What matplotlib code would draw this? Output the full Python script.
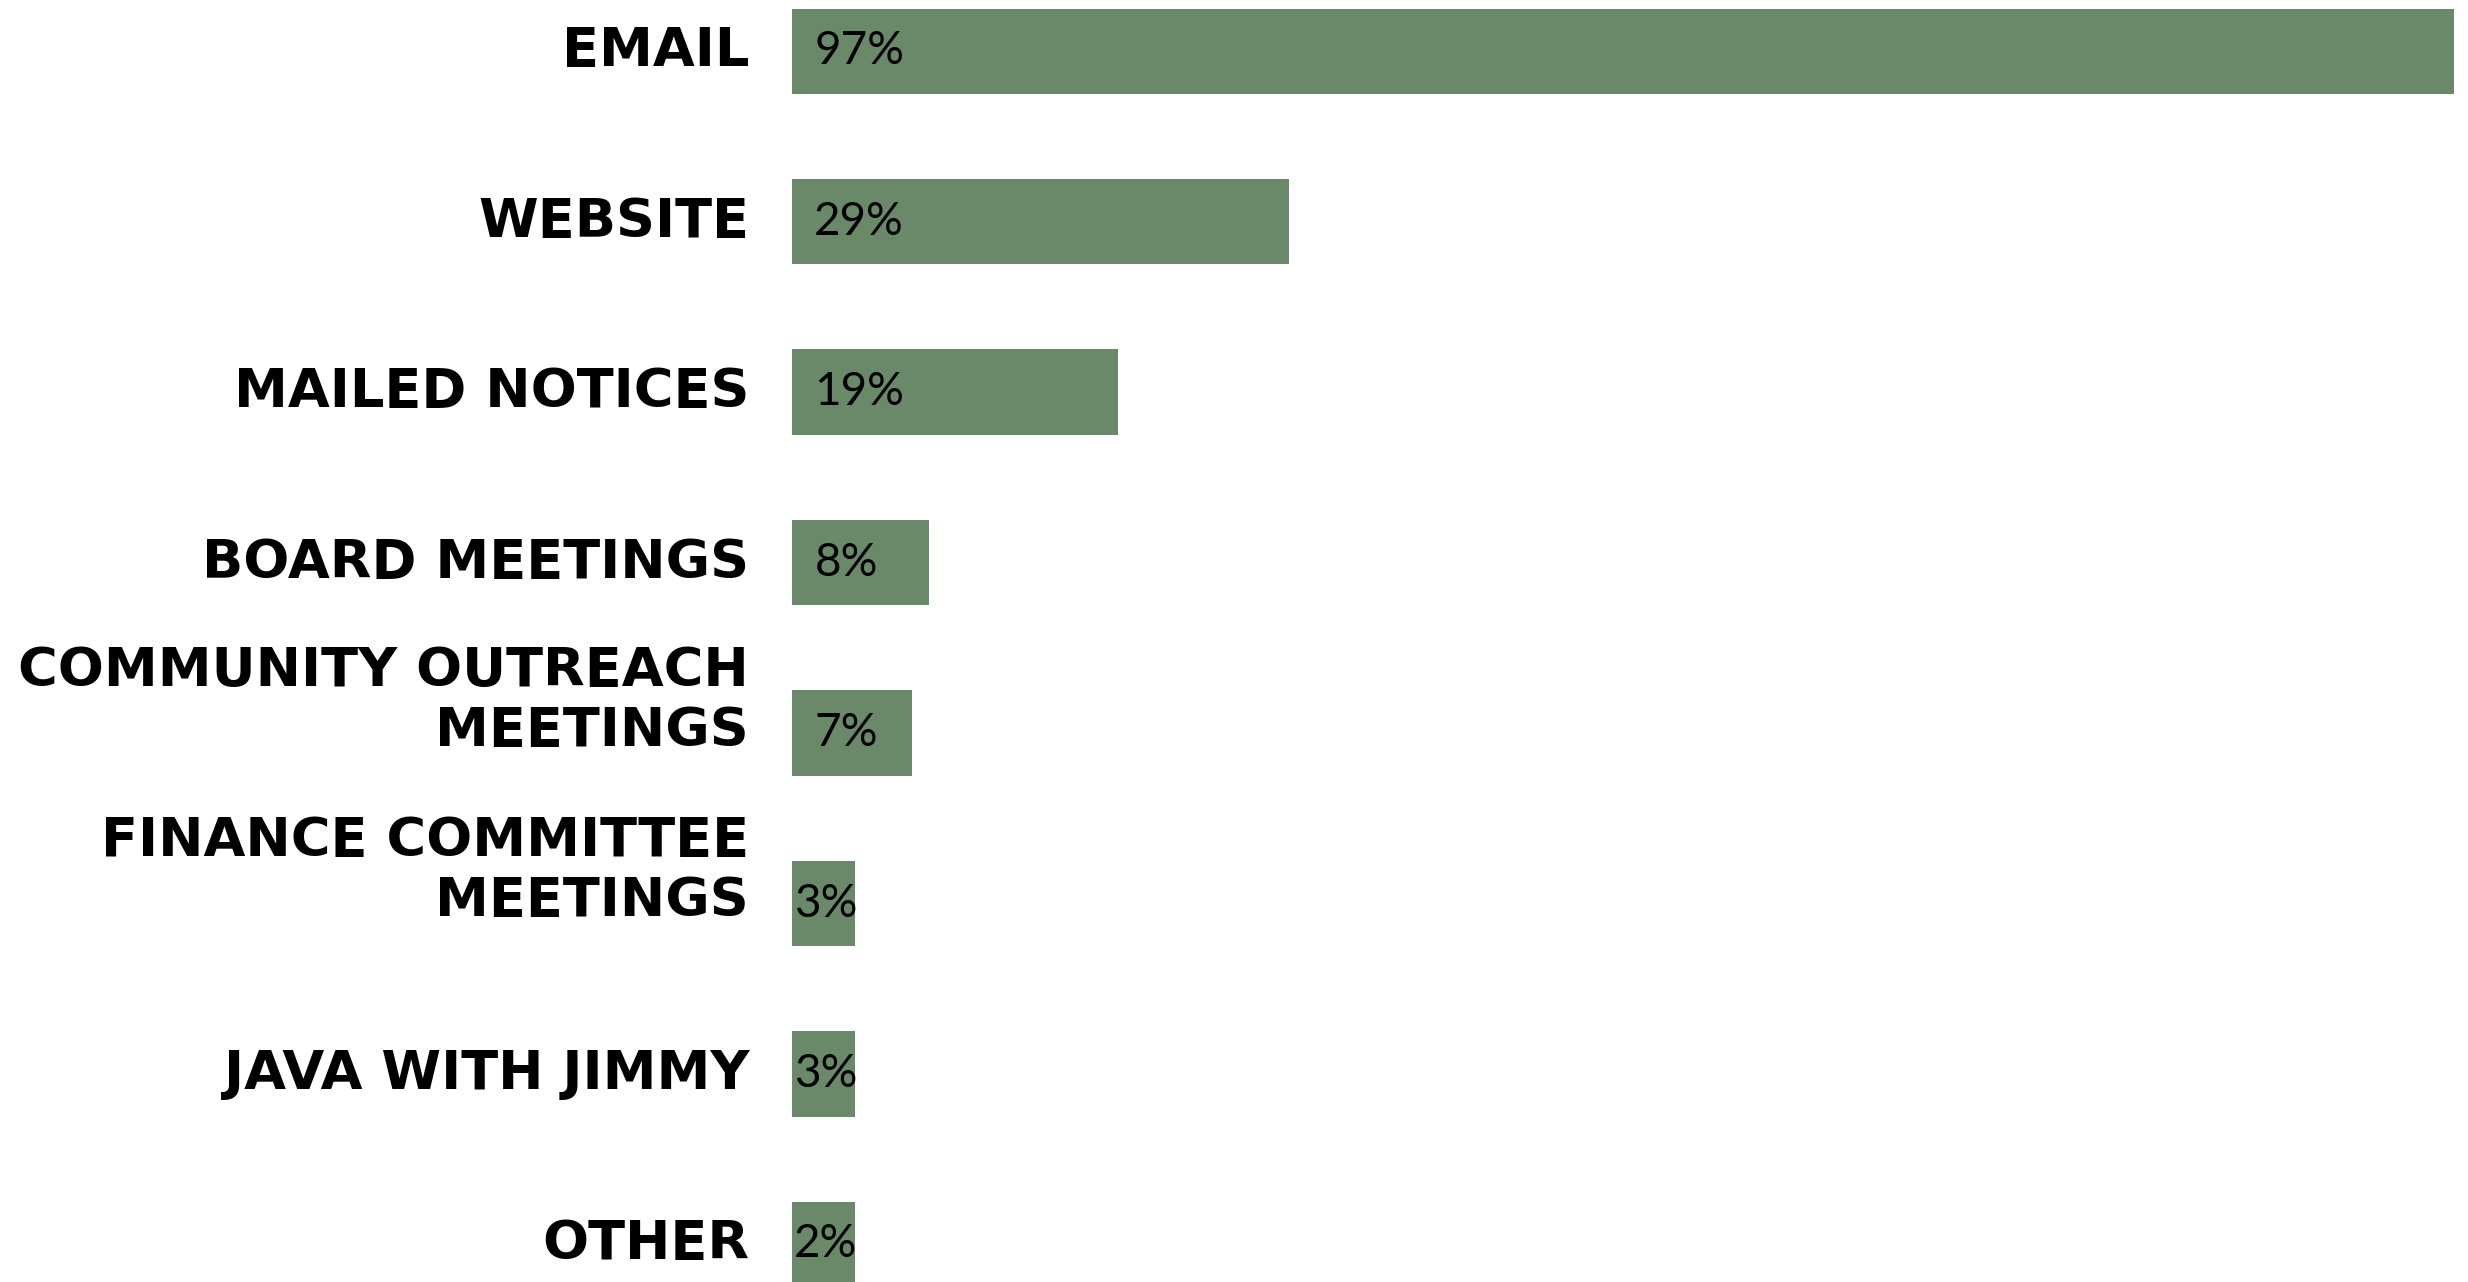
import matplotlib
matplotlib.use("Agg")
import matplotlib.pyplot as plt
import numpy as np

categories = ["EMAIL", "WEBSITE", "MAILED NOTICES", "BOARD MEETINGS",
              "COMMUNITY OUTREACH\nMEETINGS", "FINANCE COMMITTEE\nMEETINGS",
              "JAVA WITH JIMMY", "OTHER"]
values = [97, 29, 19, 8, 7, 3, 3, 2]
value_labels = ["97%", "29%", "19%", "8%", "7%", "3%", "3%", "2%"]

bar_color = "#6a8969"
min_width = 3.7  # tiny bars are drawn a bit wider so the label fits

fig = plt.figure(figsize=(24.68, 12.82), dpi=100)
ax = fig.add_axes([0.3209, 0, 0.679, 1])

y = np.arange(len(categories))
widths = np.maximum(values, min_width)
ax.barh(y, widths, height=0.5, color=bar_color)

ax.set_xlim(0, 97.78)
ax.set_ylim(7.22, -0.30)
ax.axis("off")

for i, (cat, w, lab) in enumerate(zip(categories, widths, value_labels)):
    nlines = cat.count("\n") + 1
    ax.text(-2.5, i - (nlines - 1) * 0.19, cat, ha="right", va="center",
            fontsize=39, fontweight="bold", family="DejaVu Sans",
            linespacing=1.2, clip_on=False, color="black")
    pad = 1.3 if w > 5 else 0.1
    ax.text(pad, i, lab, ha="left", va="center", fontsize=33,
            family="Lato", fontweight="normal", color="black")

fig.savefig("out.png", dpi=100)
